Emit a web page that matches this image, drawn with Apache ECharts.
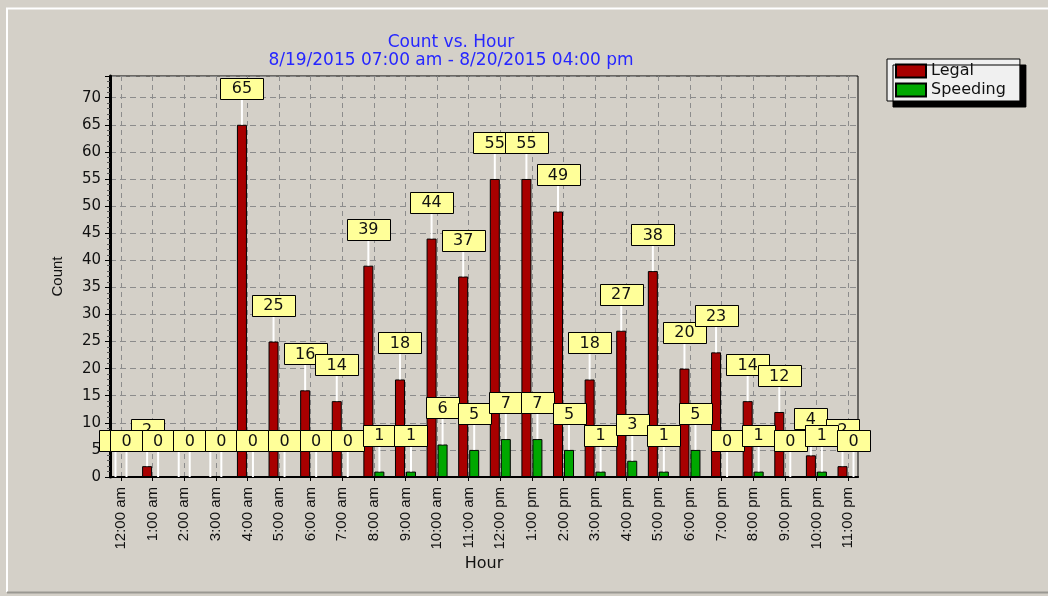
<!DOCTYPE html>
<html>
<head>
<meta charset="utf-8">
<script src="https://cdn.jsdelivr.net/npm/echarts@6/dist/echarts.min.js"></script>
<style>
html,body{margin:0;padding:0;background:#d4d0c8;}
#chart{width:1048px;height:596px;}
</style>
</head>
<body>
<div id="chart"></div>
<script>
const categories = ['12:00 am','1:00 am','2:00 am','3:00 am','4:00 am','5:00 am','6:00 am','7:00 am','8:00 am','9:00 am','10:00 am','11:00 am','12:00 pm','1:00 pm','2:00 pm','3:00 pm','4:00 pm','5:00 pm','6:00 pm','7:00 pm','8:00 pm','9:00 pm','10:00 pm','11:00 pm'];
const legal = [0,2,0,0,65,25,16,14,39,18,44,37,55,55,49,18,27,38,20,23,14,12,4,2];
const speeding = [0,0,0,0,0,0,0,0,1,1,6,5,7,7,5,1,3,1,5,0,1,0,1,0];
const yTicks = [0,5,10,15,20,25,30,35,40,45,50,55,60,65,70];
const titleText = 'Count vs. Hour';
const subTitleText = '8/19/2015 07:00 am - 8/20/2015 04:00 pm';

const FONT = 'Liberation Sans';
const WIDE = 'DejaVu Sans';
const chart = echarts.init(document.getElementById('chart'), null, {renderer:'canvas'});

function labelSeries(name, values, dx) {
  return {
    name: name + ' labels',
    type: 'custom',
    xAxisIndex: 0, yAxisIndex: 0,
    z: dx < 0 ? 5 : 6,
    silent: true,
    data: values.map((v, i) => [i, v]),
    renderItem: function (params, api) {
      const idx = api.value(0), v = api.value(1);
      const p = api.coord([idx, v]);
      const x = p[0] + dx;
      const top = p[1];
      const cy = top - 36.5;
      const txt = String(v);
      const w = txt.length * 10 + 23;
      const h = 21;
      return {
        type: 'group',
        children: [
          {type: 'line', shape: {x1: x, y1: top, x2: x, y2: cy + h / 2}, style: {stroke: '#ffffff', lineWidth: 2}},
          {type: 'rect', shape: {x: Math.round(x - w / 2) + 0.5, y: Math.round(cy - h / 2) + 0.5, width: w, height: h}, style: {fill: '#ffff99', stroke: '#000', lineWidth: 1}},
          {type: 'text', style: {text: txt, x: x, y: cy + 1, align: 'center', verticalAlign: 'middle', font: '16px "' + WIDE + '"', fill: '#111'}}
        ]
      };
    }
  };
}

const option = {
  backgroundColor: '#d4d0c8',
  animation: false,
  textStyle: {fontFamily: FONT},
  title: {
    text: titleText + '\n' + subTitleText,
    left: 446, top: 29, textAlign: 'center',
    textStyle: {color: '#2626ff', fontSize: 17, fontWeight: 'normal', lineHeight: 18, fontFamily: WIDE}
  },
  legend: {
    orient: 'vertical',
    left: 887, top: 59,
    padding: [4, 14, 3, 8],
    itemGap: 3,
    itemWidth: 30, itemHeight: 13,
    backgroundColor: '#f0f0f0',
    borderColor: '#000', borderWidth: 1,
    shadowColor: '#000', shadowOffsetX: 6, shadowOffsetY: 6, shadowBlur: 0.01,
    icon: 'rect',
    textStyle: {fontSize: 16, color: '#111', fontFamily: WIDE},
    data: ['Legal', 'Speeding']
  },
  graphic: [
    {type: 'polyline', shape: {points: [[7, 592], [7, 8.5], [1048, 8.5]]}, style: {stroke: '#ffffff', lineWidth: 2, fill: null}, silent: true},
    {type: 'line', shape: {x1: 7, y1: 592.5, x2: 1048, y2: 592.5}, style: {stroke: '#9a9892', lineWidth: 2}, silent: true}
  ],
  grid: [
    {left: 121, right: 200, top: 76, bottom: 119},
    {left: 110, right: 190, top: 76, bottom: 119, show: true, borderColor: '#000', borderWidth: 1, backgroundColor: 'transparent'}
  ],
  xAxis: [
    {
      type: 'category', gridIndex: 0, data: categories, boundaryGap: false,
      axisLine: {show: false},
      axisTick: {show: true, length: 4, lineStyle: {color: '#000'}},
      axisLabel: {rotate: 90, margin: 10, fontSize: 15, color: '#111', fontFamily: FONT, interval: 0},
      splitLine: {show: true, lineStyle: {color: '#8c8c8c', type: [5, 4], width: 1}}
    },
    {
      type: 'value', gridIndex: 1, min: 0, max: 1,
      axisLine: {show: true, onZero: false, lineStyle: {color: '#000', width: 2}},
      axisTick: {show: false}, axisLabel: {show: false}, splitLine: {show: false},
      name: 'Hour', nameLocation: 'middle', nameGap: 79,
      nameTextStyle: {fontSize: 16, color: '#111', fontFamily: WIDE}
    }
  ],
  yAxis: [
    {
      type: 'value', gridIndex: 0, min: 0, max: 74,
      show: false
    },
    {
      type: 'value', gridIndex: 1, min: 0, max: 74, interval: 5,
      axisLine: {show: true, onZero: false, lineStyle: {color: '#000', width: 3}},
      axisTick: {show: true, length: 5, lineStyle: {color: '#000'}},
      minorTick: {show: true, splitNumber: 5, length: 3, lineStyle: {color: '#555'}},
      axisLabel: {
        fontSize: 15, color: '#111', margin: 9, fontFamily: WIDE,
        formatter: function (v) { return yTicks.indexOf(v) >= 0 ? String(v) : ''; }
      },
      splitLine: {show: true, lineStyle: {color: '#8c8c8c', type: [6, 4], width: 1}},
      name: 'Count', nameLocation: 'middle', nameGap: 45, nameRotate: 90,
      nameTextStyle: {fontSize: 15, color: '#111', fontFamily: FONT}
    }
  ],
  series: [
    {
      name: 'Legal', type: 'bar', xAxisIndex: 0, yAxisIndex: 0,
      data: legal, barWidth: 10, barGap: '10%', clip: false,
      itemStyle: {color: '#a80000', borderColor: '#000', borderWidth: 1}
    },
    {
      name: 'Speeding', type: 'bar', xAxisIndex: 0, yAxisIndex: 0,
      data: speeding, barWidth: 10, barGap: '10%', clip: false,
      itemStyle: {color: '#00a800', borderColor: '#000', borderWidth: 1}
    },
    labelSeries('Legal', legal, -5.5),
    labelSeries('Speeding', speeding, 5.5)
  ]
};
chart.setOption(option);
</script>
</body>
</html>
